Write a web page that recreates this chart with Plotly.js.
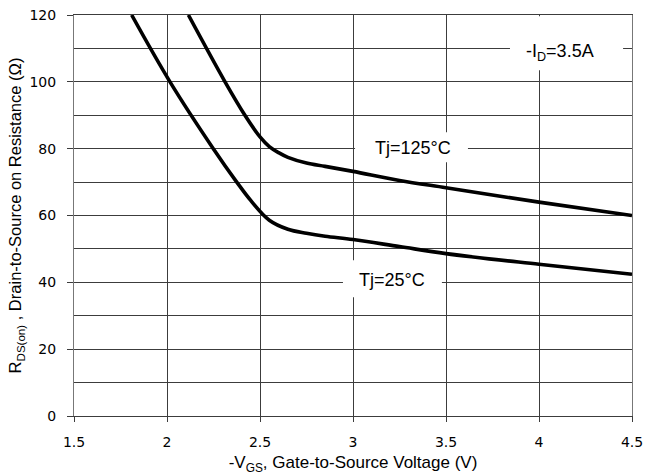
<!DOCTYPE html>
<html>
<head>
<meta charset="utf-8">
<script src="https://cdn.plot.ly/plotly-3.0.1.min.js"></script>
<style>
  html, body { margin: 0; padding: 0; background: #fff; }
  #chart { width: 647px; height: 475px; }
</style>
</head>
<body>
<div id="chart"></div>
<script>
// Gate voltage (-VGS, V) and on-resistance (Ω) at Tj = 25 °C
const vgs25 = [1.81, 2.016, 2.249, 2.375, 2.45, 2.55, 2.65, 2.75, 2.85, 3.0, 3.25, 3.5, 4.0, 4.5];
const rds25 = [120, 100, 80, 70, 64.5, 58.6, 55.9, 54.7, 53.8, 52.8, 50.7, 48.6, 45.4, 42.4];

// Gate voltage (-VGS, V) and on-resistance (Ω) at Tj = 125 °C
const vgs125 = [2.115, 2.312, 2.419, 2.5, 2.55, 2.6, 2.65, 2.75, 2.85, 3.0, 3.25, 3.5, 4.0, 4.5];
const rds125 = [120, 100, 90, 83.5, 80.6, 78.8, 77.4, 75.7, 74.7, 73.2, 70.5, 68.3, 64, 60];

// Axis tick values
const xTicks = [1.5, 2, 2.5, 3, 3.5, 4, 4.5];
const xTickText = ['1.5', '2', '2.5', '3', '3.5', '4', '4.5'];
const yTicks = [0, 20, 40, 60, 80, 100, 120];

const curveLine = { color: '#000', width: 3.6, shape: 'spline', smoothing: 1 };

const traces = [
  { x: vgs25, y: rds25, mode: 'lines', line: curveLine, hoverinfo: 'skip' },
  { x: vgs125, y: rds125, mode: 'lines', line: curveLine, hoverinfo: 'skip' }
];

const gridCol = '#3c3c3c';
const textFont = { family: 'Liberation Sans, Arial, sans-serif', size: 18, color: '#000' };

// white patches behind the in-plot labels, drawn over the grid but under the curves
function patch(x0, x1, y0, y1) {
  return { type: 'rect', xref: 'x', yref: 'y', x0, x1, y0, y1, layer: 'between',
           fillcolor: '#fff', line: { width: 0 } };
}

const layout = {
  width: 647, height: 475,
  margin: { l: 74, r: 15, t: 15, b: 59 },
  paper_bgcolor: '#fff', plot_bgcolor: '#fff',
  showlegend: false,
  xaxis: {
    range: [1.5, 4.5], tickvals: xTicks, ticktext: xTickText,
    ticks: 'outside', ticklen: 5, tickcolor: gridCol, tickwidth: 1,
    showgrid: true, gridcolor: gridCol, gridwidth: 1,
    showline: true, linecolor: gridCol, linewidth: 1, mirror: true,
    zeroline: false, ticklabelstandoff: 8,
    tickfont: { family: 'DejaVu Sans, Verdana, sans-serif', size: 14, color: '#000' },
    title: { text: '-V<sub>GS</sub>, Gate-to-Source Voltage (V)', standoff: 9,
             font: { family: 'Liberation Sans, Arial, sans-serif', size: 17, color: '#000' } }
  },
  yaxis: {
    range: [0, 120], tickvals: yTicks,
    ticks: 'outside', ticklen: 6, tickcolor: gridCol, tickwidth: 1,
    showgrid: true, gridcolor: gridCol, gridwidth: 1,
    minor: { dtick: 10, showgrid: true, gridcolor: gridCol, gridwidth: 1 },
    showline: true, linecolor: '#777', linewidth: 1, mirror: true,
    zeroline: false, ticklabelstandoff: 8,
    tickfont: { family: 'DejaVu Sans, Verdana, sans-serif', size: 14, color: '#000' },
    title: { text: 'R<sub>DS(on)</sub> , Drain-to-Source on Resistance (Ω)', standoff: 3,
             font: { family: 'Liberation Sans, Arial, sans-serif', size: 16.5, color: '#000' } }
  },
  shapes: [
    patch(3.844, 4.452, 103.5, 119.6),
    patch(3.011, 3.618, 75.9, 84.9),
    patch(2.946, 3.478, 35.5, 46.6)
  ],
  annotations: [
    { x: 4.113, y: 108.9, xref: 'x', yref: 'y', text: '-I<sub>D</sub>=3.5A', showarrow: false, font: textFont },
    { x: 3.323, y: 80.1, xref: 'x', yref: 'y', text: 'Tj=125°C', showarrow: false, font: textFont },
    { x: 3.208, y: 40.6, xref: 'x', yref: 'y', text: 'Tj=25°C', showarrow: false, font: textFont }
  ]
};

Plotly.newPlot('chart', traces, layout, { staticPlot: true, displayModeBar: false });
</script>
</body>
</html>
